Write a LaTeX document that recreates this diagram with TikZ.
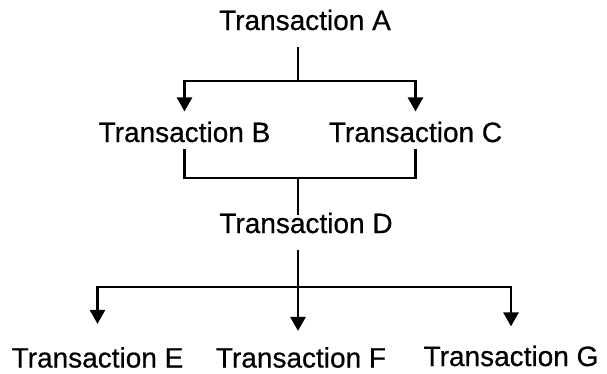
\documentclass[tikz,border=0pt]{standalone}
\usepackage{fontspec}
\setmainfont[FakeBold=0.6]{Liberation Sans}
\usetikzlibrary{arrows.meta}

\begin{document}
\begin{tikzpicture}[x=1pt, y=-1pt, line width=2.6pt,
        tx/.style={inner sep=0pt, font=\fontsize{28}{30}\selectfont},
        arr/.style={-{Triangle[width=15pt,length=14pt]}}]
                \useasboundingbox (0,0) rectangle (607,373);

                \node[tx] (A) at (305,20) {Transaction A};
                \node[tx] (B) at (184.5,132) {Transaction B};
                \node[tx] (C) at (415.5,132) {Transaction C};
                \node[tx] (D) at (306,223) {Transaction D};
                \node[tx] (E) at (97.5,357.5) {Transaction E};
                \node[tx] (F) at (301,357.5) {Transaction F};
                \node[tx] (G) at (511,356) {Transaction G};

                \coordinate (AB) at (298,81);
                \coordinate (BC) at (298,178);
                \coordinate (DE) at (298,287);

                \draw[shorten <=15pt] (A.south -| AB) -- (AB);
                \draw[arr, shorten >=9pt] (AB) -| (B.north);
                \draw[arr, shorten >=9pt] (AB) -| (C.north);
                \draw[shorten <=5pt, shorten >=5pt] (B.south) |- (BC) -| (C.south);
                \draw[shorten >=-4pt] (BC) -- (BC |- D.north);
                \draw[shorten <=15pt] (D.south -| DE) -- (DE);
                \draw[arr, shorten >=22pt] (DE) -| (E.north);
                \draw[arr, shorten >=15pt] (DE) -- (DE |- F.north);
                \draw[arr, shorten >=18pt] (DE) -| (G.north);
            \end{tikzpicture}
\end{document}
